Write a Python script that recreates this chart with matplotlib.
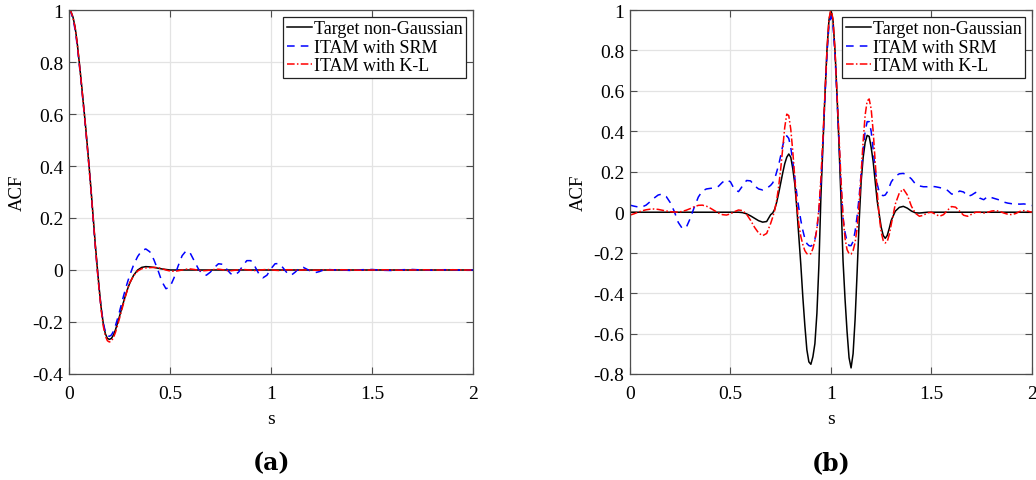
import numpy as np
import matplotlib
matplotlib.use("Agg")
import matplotlib.pyplot as plt
from matplotlib.ticker import FuncFormatter

plt.rcParams["font.family"] = ["Liberation Serif", "DejaVu Serif"]
plt.rcParams["axes.unicode_minus"] = False

# ---- (a) lag grid and ACF values ----
s_a = np.round(np.concatenate([np.arange(0, 0.305, 0.01),
                               np.arange(0.32, 1.305, 0.02),
                               np.arange(1.35, 2.005, 0.05)]), 3)

target_a = [1.000, 0.993, 0.972, 0.935, 0.878, 0.805, 0.730, 0.650, 0.570, 0.485,
            0.395, 0.300, 0.200, 0.100, 0.010, -0.075, -0.150, -0.208, -0.245, -0.263,
            -0.267, -0.263, -0.250, -0.230, -0.205, -0.178, -0.150, -0.123, -0.097, -0.073,
            -0.052,
            -0.020, 0.000, 0.010, 0.013, 0.012, 0.010, 0.007, 0.004, 0.002, 0.000,
            0, 0, 0, 0, 0, 0, 0, 0, 0, 0, 0, 0, 0, 0, 0, 0, 0, 0, 0, 0,
            0, 0, 0, 0, 0, 0, 0, 0, 0, 0, 0, 0, 0, 0, 0, 0, 0, 0, 0, 0,
            0, 0, 0, 0, 0, 0, 0, 0, 0, 0, 0, 0, 0, 0]

srm_a = [1.000, 0.990, 0.965, 0.925, 0.868, 0.797, 0.722, 0.644, 0.563, 0.478,
         0.388, 0.292, 0.192, 0.093, 0.002, -0.082, -0.153, -0.205, -0.238, -0.253,
         -0.255, -0.250, -0.236, -0.214, -0.188, -0.160, -0.130, -0.100, -0.072, -0.046,
         -0.022,
         0.020, 0.052, 0.074, 0.081, 0.070, 0.040, 0.000, -0.045, -0.072, -0.065,
         -0.030, 0.015, 0.055, 0.074, 0.065, 0.035, 0.005, -0.016, -0.020, -0.008,
         0.010, 0.024, 0.022, 0.004, -0.014, -0.020, -0.008, 0.016, 0.036, 0.036,
         0.014, -0.015, -0.030, -0.020, 0.005, 0.024, 0.025, 0.008, -0.012, -0.020,
         -0.008, 0.008, 0.010, 0.002, -0.006, -0.010, -0.006, 0.000, 0.002, 0.001,
         0.000, -0.002, 0.001, 0.002, -0.001, -0.002, 0.001, 0.002, 0.000, -0.001,
         0.001, 0.001, -0.001, 0.000]

kl_a = [1.000, 0.993, 0.970, 0.933, 0.876, 0.803, 0.727, 0.647, 0.566, 0.480,
        0.390, 0.295, 0.195, 0.095, 0.003, -0.083, -0.158, -0.217, -0.254, -0.272,
        -0.277, -0.273, -0.260, -0.240, -0.214, -0.186, -0.157, -0.128, -0.100, -0.074,
        -0.050,
        -0.022, -0.004, 0.005, 0.008, 0.009, 0.010, 0.009, 0.005, 0.000, -0.004,
        -0.005, -0.003, 0.000, 0.003, 0.004, 0.002, -0.001, -0.003, -0.002, 0.000,
        0.002, 0.003, 0.001, -0.002, -0.003, -0.001, 0.001, 0.002, 0.001, -0.001,
        -0.002, -0.001, 0.001, 0.002, 0.001, -0.001, -0.002, 0.000, 0.001, 0.001,
        0.000, -0.001, 0.000, 0.001, 0.000, -0.001, 0.000, 0.001, 0.000, 0.000,
        0.001, 0.000, -0.001, 0.000, 0.001, 0.000, -0.001, 0.000, 0.001, 0.000,
        0.000, 0.001, 0.000, 0.000]

# ---- (b) lag grid and ACF values ----
s_b = np.round(np.concatenate([np.arange(0, 0.705, 0.02),
                               np.arange(0.71, 1.305, 0.01),
                               np.arange(1.32, 2.005, 0.02)]), 3)

target_b = [0, 0, 0, 0, 0, 0, 0, 0, 0, 0, 0, 0, 0, 0,
            0, 0, 0, 0, 0, 0, 0, 0, 0, 0, 0, 0, 0, 0,
            -0.002, -0.008, -0.018, -0.030, -0.042, -0.049, -0.046, -0.012,
            -0.004, 0.015, 0.050, 0.095, 0.145, 0.195, 0.240, 0.272, 0.288, 0.272,
            0.215, 0.140, 0.020, -0.120, -0.260, -0.420, -0.560, -0.680, -0.740, -0.752,
            -0.715, -0.650, -0.500, -0.260, 0.080, 0.330, 0.580, 0.800, 0.950, 1.000,
            0.950, 0.800, 0.580, 0.330, 0.060, -0.240, -0.430, -0.590, -0.720, -0.770,
            -0.700, -0.530, -0.300, -0.050, 0.150, 0.270, 0.345, 0.380, 0.375, 0.320,
            0.250, 0.150, 0.055, -0.010, -0.075, -0.115, -0.129, -0.115, -0.080, -0.040,
            0.005, 0.024, 0.029, 0.020, 0.006, -0.003, -0.004, -0.002,
            0, 0, 0, 0, 0, 0, 0, 0, 0, 0, 0, 0, 0, 0, 0, 0, 0, 0, 0, 0,
            0, 0, 0, 0, 0, 0, 0]

srm_b = [0.035, 0.030, 0.026, 0.026, 0.035, 0.052, 0.070, 0.085, 0.090, 0.078,
         0.048, 0.005, -0.050, -0.080, -0.075, -0.030, 0.025, 0.075, 0.105, 0.115,
         0.118, 0.120, 0.128, 0.148, 0.161, 0.150, 0.112, 0.102, 0.130, 0.157,
         0.155, 0.130, 0.115, 0.110, 0.118, 0.133,
         0.145, 0.165, 0.200, 0.235, 0.280, 0.330, 0.365, 0.378, 0.365, 0.320,
         0.250, 0.170, 0.090, 0.020, -0.040, -0.090, -0.130, -0.155, -0.165, -0.168,
         -0.160, -0.135, -0.085, 0.010, 0.150, 0.350, 0.570, 0.780, 0.925, 0.970,
         0.925, 0.780, 0.570, 0.350, 0.130, -0.030, -0.100, -0.145, -0.165, -0.165,
         -0.145, -0.095, -0.020, 0.075, 0.190, 0.310, 0.400, 0.448, 0.448, 0.400,
         0.310, 0.210, 0.140, 0.100, 0.085, 0.082, 0.085, 0.100, 0.125, 0.150,
         0.178, 0.190, 0.192, 0.182, 0.165, 0.140, 0.130, 0.126, 0.126, 0.128,
         0.126, 0.122, 0.117, 0.108, 0.090, 0.090, 0.105, 0.100, 0.078, 0.085,
         0.098, 0.070, 0.062, 0.078, 0.072, 0.066, 0.060, 0.050, 0.045, 0.042,
         0.041, 0.040, 0.041, 0.038, 0.033]

kl_b = [-0.014, -0.008, 0.000, 0.007, 0.012, 0.015, 0.016, 0.014, 0.010, 0.006,
        0.003, 0.001, 0.001, 0.004, 0.010, 0.018, 0.027, 0.034, 0.035, 0.030,
        0.020, 0.008, -0.004, -0.012, -0.014, -0.008, 0.003, 0.011, 0.008, -0.010,
        -0.040, -0.075, -0.103, -0.116, -0.105, -0.055,
        -0.025, 0.010, 0.060, 0.130, 0.215, 0.320, 0.420, 0.485, 0.478, 0.410,
        0.300, 0.170, 0.040, -0.060, -0.120, -0.160, -0.190, -0.205, -0.208, -0.205,
        -0.180, -0.140, -0.080, 0.020, 0.170, 0.370, 0.590, 0.800, 0.955, 1.005,
        0.955, 0.800, 0.590, 0.370, 0.160, -0.020, -0.130, -0.185, -0.205, -0.207,
        -0.190, -0.150, -0.080, 0.040, 0.190, 0.350, 0.480, 0.550, 0.560, 0.510,
        0.400, 0.250, 0.100, -0.020, -0.100, -0.140, -0.152, -0.145, -0.110, -0.060,
        0.040, 0.095, 0.115, 0.085, 0.030, -0.005, -0.020, -0.015, -0.003, 0.000,
        -0.010, -0.020, -0.012, 0.010, 0.028, 0.025, 0.005, -0.015, -0.020, -0.010,
        0.000, 0.000, -0.004, 0.000, 0.006, 0.008, 0.004, -0.004, -0.010, -0.012,
        -0.006, 0.004, 0.008, 0.005, 0.000]

labels = ["Target non-Gaussian", "ITAM with SRM", "ITAM with K-L"]
ylims = [(-0.4, 1.0), (-0.8, 1.0)]
panel_tags = ["(a)", "(b)"]

frame_col = "#4d4d4d"


def fmt(v, _):
    return "%g" % (round(v, 2) + 0.0)


fig = plt.figure(figsize=(10.36, 4.81), dpi=100)
ax_a = fig.add_axes([0.0666, 0.2204, 0.39, 0.7567])
ax_b = fig.add_axes([0.6081, 0.2204, 0.388, 0.7567])

curves = [(s_a, target_a, srm_a, kl_a), (s_b, target_b, srm_b, kl_b)]

for ax, (s, tg, srm, kl), ylim, tag in zip([ax_a, ax_b], curves, ylims, panel_tags):
    ax.plot(s, tg, color="black", lw=1.1, label=labels[0])
    ax.plot(s, srm, color="blue", lw=1.1, ls=(0, (5, 4)), label=labels[1])
    ax.plot(s, kl, color="red", lw=1.1, ls=(0, (5, 1.5, 1, 1.5)), label=labels[2])

    ax.set_xlim(0, 2)
    ax.set_ylim(*ylim)
    ax.set_xticks([0, 0.5, 1, 1.5, 2])
    ax.set_yticks(np.round(np.arange(ylim[0], 1.001, 0.2), 2))
    ax.xaxis.set_major_formatter(FuncFormatter(fmt))
    ax.yaxis.set_major_formatter(FuncFormatter(fmt))
    ax.grid(True, color="#e3e3e3", lw=0.9)
    ax.set_axisbelow(True)
    ax.tick_params(direction="in", length=5, width=0.8, color=frame_col,
                   top=True, right=True, labelsize=14)
    ax.tick_params(axis="x", pad=8)
    ax.tick_params(axis="y", pad=4)
    for sp in ax.spines.values():
        sp.set_color(frame_col)
        sp.set_linewidth(0.9)

    ax.set_xlabel("s", fontsize=14, labelpad=6)
    ax.set_ylabel("ACF", fontsize=13.5, labelpad=5)

    leg = ax.legend(loc="upper right", fontsize=13, handlelength=1.4,
                    handletextpad=0.1, labelspacing=0.08, borderpad=0.2,
                    borderaxespad=0.38, fancybox=False, framealpha=1)
    leg.get_frame().set_edgecolor("#222222")
    leg.get_frame().set_linewidth(0.9)

    ax.text(0.5, -0.242, tag, transform=ax.transAxes, ha="center", va="center",
            fontsize=17, fontweight="bold", family="DejaVu Serif")

fig.savefig("out.png", dpi=100)
